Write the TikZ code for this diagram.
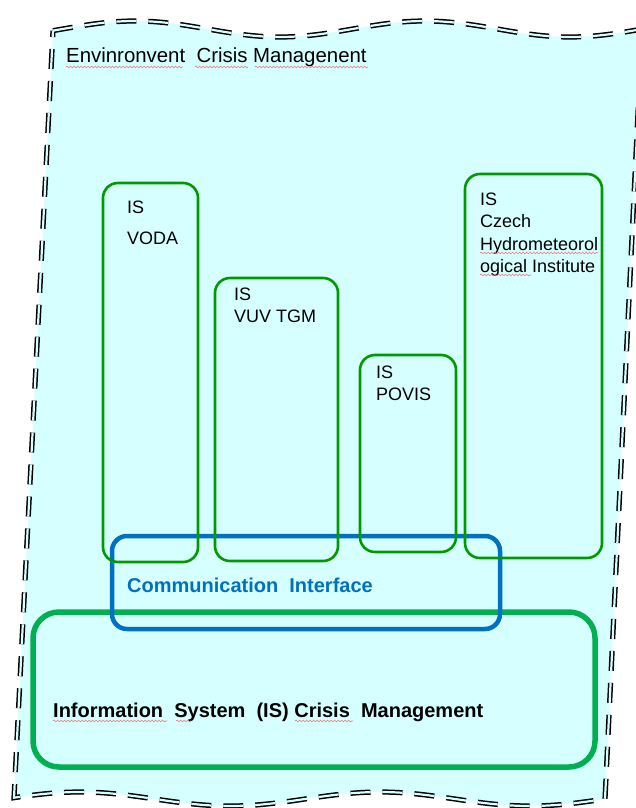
\documentclass[tikz,border=0pt]{standalone}
\usepackage{fontspec}
\setmainfont{Liberation Sans}
\usetikzlibrary{decorations.pathmorphing}
\definecolor{bgcyan}{RGB}{214,255,255}
\definecolor{isgreen}{RGB}{0,153,0}
\definecolor{biggreen}{RGB}{0,176,80}
\definecolor{ciblue}{RGB}{0,112,192}
\definecolor{squigred}{RGB}{235,120,120}
\begin{document}
\begin{tikzpicture}[x=1pt,y=-1pt,
  bgshape/.style={fill=bgcyan, draw=black, line width=1.5pt, double=bgcyan,
    double distance=2.2pt, dash pattern=on 20pt off 12pt},
  isbox/.style={draw=isgreen, line width=2.6pt, rounded corners=15pt,
    inner sep=0pt, outer sep=0pt, anchor=north west},
  cibox/.style={draw=ciblue, line width=4.5pt, rounded corners=15pt,
    inner sep=0pt, outer sep=0pt, anchor=north west},
  bigbox/.style={draw=biggreen, line width=5.5pt, rounded corners=26pt,
    inner sep=0pt, outer sep=0pt, anchor=north west},
  lbl/.style={anchor=base west, inner sep=0pt, font=\fontsize{18}{22}\selectfont},
  ttl/.style={anchor=base west, inner sep=0pt, font=\fontsize{20.4}{24}\selectfont},
  cilbl/.style={anchor=base west, inner sep=0pt, text=ciblue,
    font=\fontsize{20}{24}\selectfont\bfseries},
  blbl/.style={anchor=base west, inner sep=0pt,
    font=\fontsize{20}{24}\selectfont\bfseries},
  squig/.style={draw=squigred, line width=0.6pt, decorate,
    decoration={snake, segment length=3.5pt, amplitude=0.9pt}}
]
\useasboundingbox (0,0) rectangle (636,808);
\clip (0,0) rectangle (636,808);

% background wavy region
\path[bgshape] plot[domain=53:642, samples=80, smooth] (\x,{29+8*cos(1.2414*(\x-280))})
  -- (605,799)
  -- plot[domain=605:14, samples=80, smooth] (\x,{799+7*cos(1.2*(\x-230))})
  -- cycle;

% boxes
\node[bigbox, minimum width=562pt, minimum height=155pt] (ism) at (33,612) {};
\node[cibox, minimum width=388pt, minimum height=93pt] (ci) at (112,536) {};
\node[isbox, minimum width=95pt, minimum height=379pt] (voda) at (103,183) {};
\node[isbox, minimum width=123pt, minimum height=283pt] (vuv) at (215,278) {};
\node[isbox, minimum width=96pt, minimum height=197pt] (povis) at (360,355) {};
\node[isbox, minimum width=137pt, minimum height=384pt] (chmi) at (465,174) {};

% texts
\node[ttl] (envt) at (66,63) {Envinronvent\ \ Crisis Managenent};
\node[cilbl] (cit) at (127,592) {Communication\ \ Interface};
\node[blbl] (ismt) at (53,717) {Information\ \ System\ \ (IS) Crisis\ \ Management};

\node[lbl] (voda1) at (127,213) {IS};
\node[lbl] (voda2) at (127,244) {VODA};
\node[lbl] (vuv1) at (234,300) {IS};
\node[lbl] (vuv2) at (234,322) {VUV TGM};
\node[lbl] (pov1) at (376,378) {IS};
\node[lbl] (pov2) at (376,400) {POVIS};
\node[lbl] (chmi1) at (480,205) {IS};
\node[lbl] (chmi2) at (480,227) {Czech};
\node[lbl] (chmi3) at (480,250) {Hydrometeorol};
\node[lbl] (chmi4) at (480,272) {ogical Institute};

% spell-check squiggles
\path[squig] (66,67) -- (183,67);
\path[squig] (195,67) -- (248,67);
\path[squig] (255,67) -- (368,67);
\path[squig] (480,253) -- (598,253);
\path[squig] (480,275) -- (531,275);
\path[squig] (53,721) -- (167,721);
\path[squig] (176,721) -- (191,721);
\path[squig] (295,721) -- (353,721);
\end{tikzpicture}
\end{document}
